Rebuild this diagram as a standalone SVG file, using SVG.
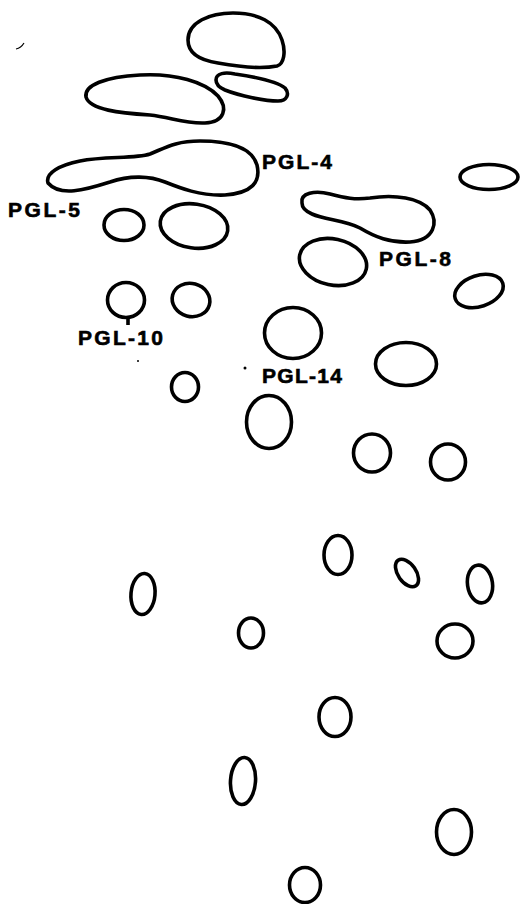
<svg xmlns="http://www.w3.org/2000/svg" width="520" height="904" viewBox="0 0 520 904">
<style>
.s{fill:none;stroke:#000;stroke-width:3.6;stroke-linejoin:round}
.t{font-family:"Liberation Sans",Arial,sans-serif;font-weight:bold;font-size:21px;fill:#000;stroke:#000;stroke-width:0.6}
</style>
<rect width="520" height="904" fill="#fff"/>
<g id="spots">
<path id="s1" class="s" d="M188,40 C188,22 210,13 233,13 C258,13 276,22 282,40 C286,52 284,64 277,66 C262,69 240,67 218,63 C198,60 188,52 188,40 Z"/>
<path id="s2" class="s" d="M216,80 C216,73 225,72 235,74 C255,77 278,82 285,88 C290,94 287,101 278,101 C265,101 240,96 225,90 C218,87 216,84 216,80 Z"/>
<path id="s3" class="s" d="M86,97 C84,85 105,77 140,75 C175,73 205,82 218,96 C228,108 225,122 205,123 C185,124 170,117 150,115 C120,113 90,110 86,97 Z"/>
<path id="pgl4" class="s" d="M48,183 C45,173 60,165 80,161 C105,156 135,159 150,154 C165,148 175,141 200,141 C230,141 252,148 257,165 C261,182 252,193 225,195 C200,196 180,188 165,182 C150,176 130,175 110,182 C85,190 60,197 48,183 Z"/>
<ellipse id="s5" class="s" cx="489" cy="177" rx="29" ry="12.5"/>
<ellipse id="pgl5" class="s" cx="124" cy="225" rx="20" ry="15.5"/>
<ellipse id="s7" class="s" cx="194" cy="226" rx="34" ry="22" transform="rotate(8 194 226)"/>
<path id="s8" class="s" d="M302,203 C300,193 315,190 330,194 C345,198 355,200 370,198 C395,194 420,198 430,210 C438,222 435,240 410,242 C390,243 375,237 360,228 C345,220 325,220 312,214 C305,211 302,207 302,203 Z"/>
<ellipse id="pgl8" class="s" cx="333" cy="262" rx="34" ry="23" transform="rotate(12 333 262)"/>
<ellipse id="s10" class="s" cx="479" cy="291" rx="25" ry="15.5" transform="rotate(-18 479 291)"/>
<ellipse id="pgl10" class="s" cx="126" cy="300" rx="18.5" ry="17.5"/>
<line class="s" x1="128" y1="318" x2="128" y2="325" stroke-width="2"/>
<ellipse id="s12" class="s" cx="191" cy="300" rx="19" ry="16.5" transform="rotate(15 191 300)"/>
<ellipse id="s13" class="s" cx="293" cy="333" rx="28.5" ry="25.5"/>
<ellipse id="s14" class="s" cx="406" cy="364" rx="30.5" ry="21.5"/>
<ellipse id="s15" class="s" cx="185" cy="387" rx="13.5" ry="14.5"/>
<ellipse id="pgl14" class="s" cx="269" cy="422" rx="22.5" ry="26.5"/>
<ellipse id="s17" class="s" cx="372" cy="453" rx="18.5" ry="19"/>
<ellipse id="s18" class="s" cx="448" cy="462" rx="17.5" ry="18"/>
<ellipse id="s19" class="s" cx="338" cy="555" rx="14" ry="19.5"/>
<ellipse id="s20" class="s" cx="407" cy="573" rx="9" ry="15.5" transform="rotate(-35 407 573)"/>
<ellipse id="s21" class="s" cx="480" cy="584" rx="12.5" ry="19" transform="rotate(-8 480 584)"/>
<ellipse id="s22" class="s" cx="143" cy="594" rx="12" ry="20.5" transform="rotate(5 143 594)"/>
<ellipse id="s23" class="s" cx="251" cy="633" rx="12.5" ry="15"/>
<ellipse id="s24" class="s" cx="455" cy="641" rx="18" ry="17"/>
<ellipse id="s25" class="s" cx="335" cy="717" rx="16" ry="19.5"/>
<ellipse id="s26" class="s" cx="243" cy="781" rx="12.5" ry="23.5" transform="rotate(4 243 781)"/>
<ellipse id="s27" class="s" cx="454" cy="832" rx="17.5" ry="22.5"/>
<ellipse id="s28" class="s" cx="305" cy="885" rx="15.5" ry="17.5"/>
</g>
<g id="marks">
<path d="M16,49 Q21,48 24,43" fill="none" stroke="#000" stroke-width="1.2"/>
<circle cx="138" cy="361" r="1" fill="#000"/>
<circle cx="245" cy="368" r="1.5" fill="#000"/>
</g>
<g id="labels">
<text class="t" x="262" y="169" textLength="70" lengthAdjust="spacing">PGL-4</text>
<text class="t" x="8" y="217" textLength="72" lengthAdjust="spacing">PGL-5</text>
<text class="t" x="379" y="266" textLength="72" lengthAdjust="spacing">PGL-8</text>
<text class="t" x="78" y="345" textLength="85" lengthAdjust="spacing">PGL-10</text>
<text class="t" x="262" y="383" textLength="80" lengthAdjust="spacing">PGL-14</text>
</g>
</svg>
